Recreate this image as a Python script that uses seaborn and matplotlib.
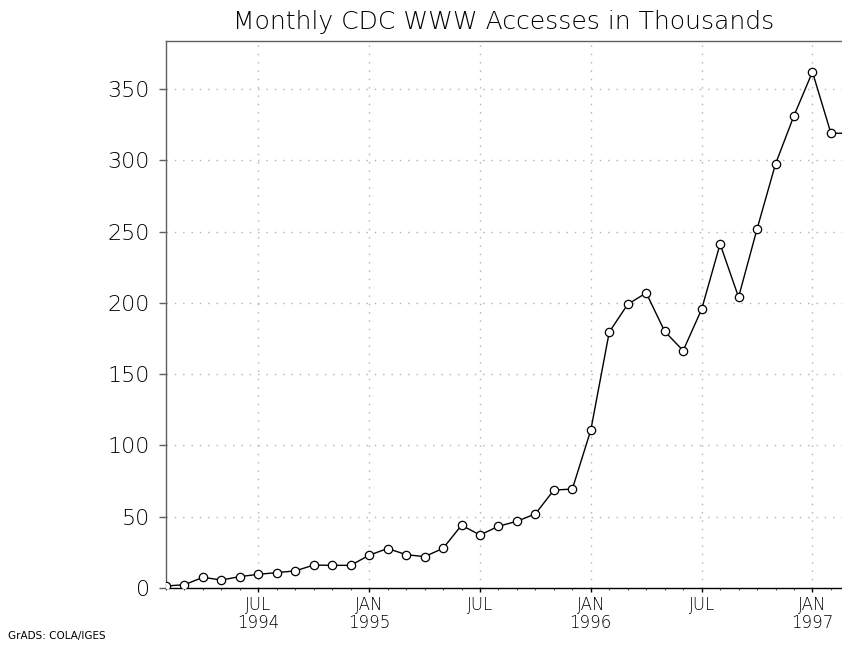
import matplotlib
matplotlib.use("Agg")
import matplotlib.pyplot as plt
import seaborn as sns
import pandas as pd
from matplotlib.ticker import FixedLocator, MultipleLocator

# Months from Feb 1994 to Mar 1997
months = ["1994-02", "1994-03", "1994-04", "1994-05", "1994-06", "1994-07",
          "1994-08", "1994-09", "1994-10", "1994-11", "1994-12",
          "1995-01", "1995-02", "1995-03", "1995-04", "1995-05", "1995-06",
          "1995-07", "1995-08", "1995-09", "1995-10", "1995-11", "1995-12",
          "1996-01", "1996-02", "1996-03", "1996-04", "1996-05", "1996-06",
          "1996-07", "1996-08", "1996-09", "1996-10", "1996-11", "1996-12",
          "1997-01", "1997-02", "1997-03"]
accesses = [1.4, 2.3, 7.5, 5.6, 8.0, 9.6, 10.8, 12.0, 16.1, 15.9, 15.9,
            23.0, 27.7, 23.4, 22.0, 27.8, 44.0, 37.2, 43.3, 46.8, 52.0, 68.7, 69.4,
            110.8, 179.6, 199.0, 207.0, 180.0, 166.5, 195.5, 241.3, 204.0, 251.8,
            297.4, 331.3, 362.0, 319.0, 319.0]

tick_months = ["1994-07", "1995-01", "1995-07", "1996-01", "1996-07", "1997-01"]
tick_labels = ["JUL\n1994", "JAN\n1995", "JUL", "JAN\n1996", "JUL", "JAN\n1997"]
y_ticks = [0, 50, 100, 150, 200, 250, 300, 350]

title = "Monthly CDC WWW Accesses in Thousands"
footer = "GrADS: COLA/IGES"

df = pd.DataFrame({"month": months, "accesses": accesses})
df["idx"] = range(len(df))
pos = {m: i for i, m in enumerate(months)}

sns.set_theme(style="white")
plt.rcParams["font.family"] = ["DejaVu Sans"]
plt.rcParams["text.color"] = "black"
plt.rcParams["axes.labelcolor"] = "black"

fig = plt.figure(figsize=(8.42, 6.5), dpi=100)
ax = fig.add_axes([166 / 842, 62 / 650, 1 - 166 / 842, (588 - 41) / 650])

sns.lineplot(data=df, x="idx", y="accesses", ax=ax, color="black", linewidth=1.0,
             marker="o", markersize=6, markerfacecolor="white",
             markeredgecolor="black", markeredgewidth=0.9, zorder=3)

ax.set_xlim(0, 36.6)
ax.set_ylim(0, 383.7)

ax.xaxis.set_major_locator(FixedLocator([pos[m] for m in tick_months]))
ax.set_xticklabels(tick_labels)
ax.xaxis.set_minor_locator(MultipleLocator(1))
ax.set_yticks(y_ticks)
ax.set_yticklabels([str(v) for v in y_ticks])

ax.grid(True, which="major", color="#b0b0b0", linestyle=(0, (1, 5)), linewidth=1.0)

for side in ["left", "top"]:
    ax.spines[side].set_color("#606060")
    ax.spines[side].set_linewidth(1.0)
ax.spines["right"].set_visible(False)
ax.spines["bottom"].set_color("black")
ax.spines["bottom"].set_linewidth(1.0)

ax.tick_params(axis="y", which="major", direction="out", length=5, width=1.0,
               color="#606060", labelcolor="black", labelsize=16, pad=6.5, left=True)
ax.tick_params(axis="x", which="major", direction="out", length=3, width=1.0,
               color="black", labelcolor="black", labelsize=12, pad=3, bottom=True)
ax.tick_params(axis="x", which="minor", direction="out", length=1.5, width=0.8,
               color="#555555", bottom=True)
for lab in ax.get_xticklabels() + ax.get_yticklabels():
    lab.set_fontweight("light")
for lab in ax.get_xticklabels():
    lab.set_linespacing(0.95)

ax.set_xlabel("")
ax.set_ylabel("")
ax.set_title(title, fontsize=18, pad=9, fontweight="light", color="black")

fig.text(8 / 842, 1 - 636 / 650, footer, fontsize=7.5, va="center", ha="left",
         color="black")

fig.savefig("out.png", dpi=100)
